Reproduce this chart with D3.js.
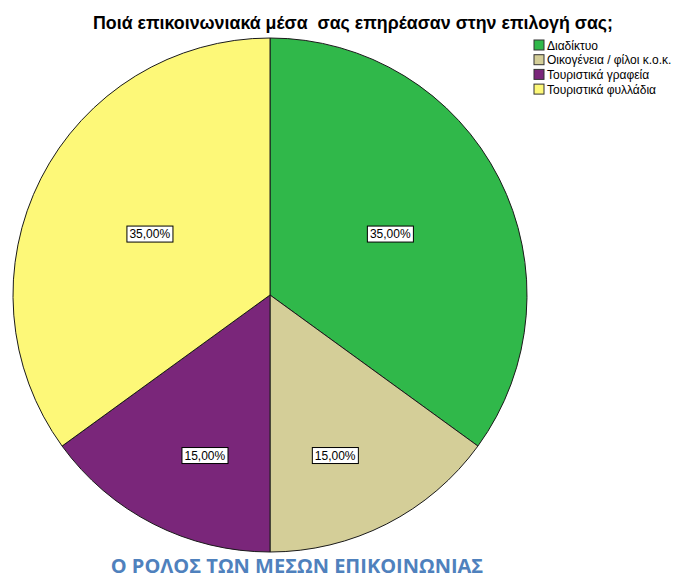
<!DOCTYPE html>
<html><head><meta charset="utf-8">
<script src="https://cdn.jsdelivr.net/npm/d3@7"></script>
<style>body{margin:0;background:#fff}svg{display:block}</style>
</head><body>
<svg id="c" width="674" height="576"></svg>
<script>
const categories = ["Διαδίκτυο", "Οικογένεια / φίλοι κ.ο.κ.", "Τουριστικά γραφεία", "Τουριστικά φυλλάδια"];
const values = [35, 15, 15, 35];
const colors = ["#30b84a", "#d4ce98", "#7a267a", "#fdf878"];
const labels = ["35,00%", "15,00%", "15,00%", "35,00%"];
const title = "Ποιά επικοινωνιακά μέσα  σας επηρέασαν στην επιλογή σας;";
const subtitle = "Ο ΡΟΛΟΣ ΤΩΝ ΜΕΣΩΝ ΕΠΙΚΟΙΝΩΝΙΑΣ";

const svg = d3.select("#c");
const cx = 270, cy = 295, r = 257;

const pie = d3.pie().sort(null).value(d => d);
const arcs = pie(values);
const arc = d3.arc().innerRadius(0).outerRadius(r);

const g = svg.append("g").attr("transform", `translate(${cx},${cy})`);
g.selectAll("path.slice").data(arcs).enter().append("path")
  .attr("d", arc)
  .attr("fill", (d, i) => colors[i])
  .attr("stroke", "#1a1a1a")
  .attr("stroke-width", 1);

// labels: placed inside each slice, pulled toward the vertical axis for small slices
arcs.forEach((d, i) => {
  const p = (d.endAngle - d.startAngle) / (2 * Math.PI);
  let mid = (d.startAngle + d.endAngle) / 2;
  const nearBottom = Math.abs(mid - Math.PI) < Math.PI / 2;
  if (nearBottom && p < 0.25) mid += (Math.PI - mid) * 0.18;
  const k = r * (0.784 - 0.74 * p);
  const x = k * Math.sin(mid), y = -k * Math.cos(mid);
  const lg = g.append("g").attr("transform", `translate(${x},${y})`);
  const t = lg.append("text").attr("text-anchor", "middle").attr("dy", "0.36em")
    .attr("font-family", "Liberation Sans, Arial, sans-serif").attr("font-size", 12)
    .attr("fill", "#000").text(labels[i]);
  const bb = t.node().getBBox();
  lg.insert("rect", "text").attr("x", bb.x - 2.5).attr("y", bb.y - 1)
    .attr("width", bb.width + 5).attr("height", bb.height + 2)
    .attr("fill", "#fff").attr("stroke", "#000").attr("stroke-width", 1);
});

// title
svg.append("text").attr("x", 353).attr("y", 29).attr("text-anchor", "middle")
  .style("white-space", "pre")
  .attr("font-family", "Liberation Sans, Arial, sans-serif").attr("font-size", 18)
  .attr("font-weight", "bold")
  .attr("textLength", 520).attr("lengthAdjust", "spacingAndGlyphs")
  .attr("fill", "#000").text(title);

// legend
const lg = svg.append("g").attr("transform", "translate(534,40)");
categories.forEach((c, i) => {
  const row = lg.append("g").attr("transform", `translate(0,${i * 14.7})`);
  row.append("rect").attr("x", 0).attr("y", 0).attr("width", 10).attr("height", 10)
    .attr("fill", colors[i]).attr("stroke", "#333").attr("stroke-width", 1);
  row.append("text").attr("x", 13).attr("y", 9.5)
    .attr("font-family", "Liberation Sans, Arial, sans-serif").attr("font-size", 12)
    .attr("fill", "#000").text(c);
});

// subtitle
svg.append("text").attr("x", 297).attr("y", 573).attr("text-anchor", "middle")
  .attr("font-family", "Open Sans, sans-serif").attr("font-weight", "bold").attr("font-size", 20)
  .attr("fill", "#4f81bd").text(subtitle);
</script>
</body></html>
